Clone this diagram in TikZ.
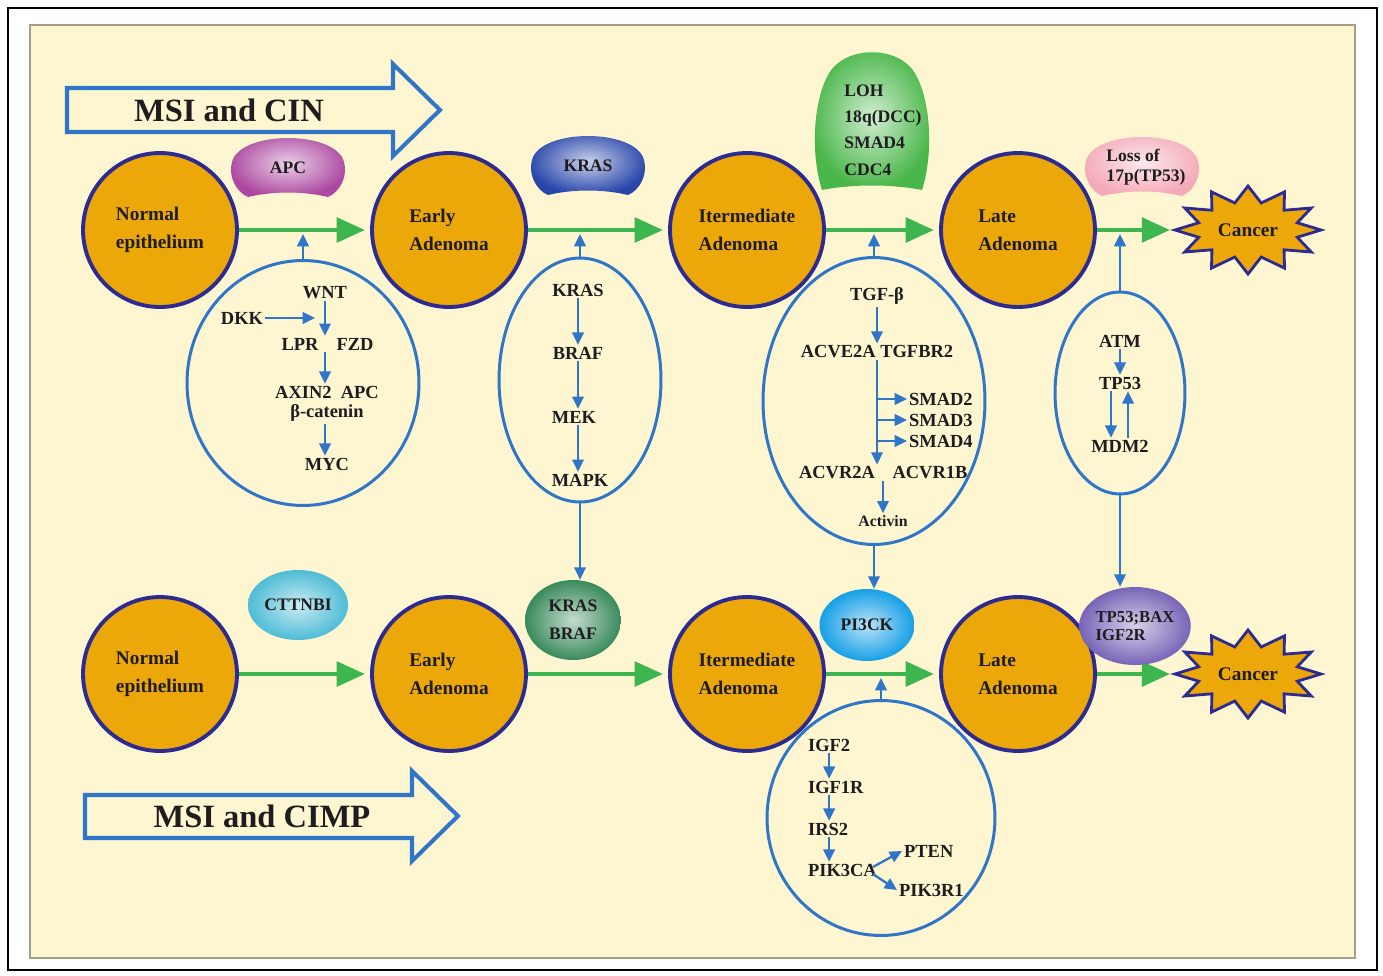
\documentclass[tikz,border=0pt]{standalone}
\usepackage{fontspec}
\setmainfont{Liberation Serif}
\usetikzlibrary{shapes.geometric, arrows.meta, calc}

\definecolor{paper}{RGB}{253,246,208}
\definecolor{stageorange}{RGB}{236,168,8}
\definecolor{ringblue}{RGB}{45,42,145}
\definecolor{pathblue}{RGB}{47,117,200}
\definecolor{arrowgreen}{RGB}{62,182,80}
\definecolor{apcpurple}{RGB}{172,72,160}
\definecolor{krasblue}{RGB}{40,70,170}
\definecolor{lohgreen}{RGB}{72,182,72}
\definecolor{losspink}{RGB}{244,170,184}
\definecolor{cttcyan}{RGB}{78,188,214}
\definecolor{kbgreen}{RGB}{58,138,92}
\definecolor{pikblue}{RGB}{22,160,230}
\definecolor{tpviolet}{RGB}{120,100,182}
\definecolor{ink}{RGB}{30,28,30}

\begin{document}
\begin{tikzpicture}[
        x=0.02cm, y=-0.02cm,
        stage/.style={circle, draw=ringblue, line width=2.2pt, fill=stageorange, minimum size=3.08cm, inner sep=0pt, align=left, text=ink, font=\fontsize{11}{16}\selectfont\bfseries},
        pathway/.style={ellipse, draw=pathblue, line width=1.7pt, inner sep=0pt},
        gene/.style={inner sep=1pt, text=ink, font=\fontsize{10.5}{12}\selectfont\bfseries},
        blob/.style={ellipse, inner sep=0pt, align=left, text=ink, font=\fontsize{10}{15}\selectfont\bfseries},
        progress/.style={draw=arrowgreen, line width=2.3pt, -{Triangle[length=16pt,width=14pt]}, shorten >=3pt},
        signal/.style={draw=pathblue, line width=1.3pt, -{Triangle[length=7pt,width=6.5pt]}},
        band/.style={draw=pathblue, line width=2.3pt, fill=paper},
        burst/.style={draw=ringblue, line width=1.6pt, fill=stageorange},
        title/.style={text=ink, font=\fontsize{18.5}{20}\selectfont\bfseries},
        pics/cushion/.style={code={
            \shade[inner color=#1!25!white, outer color=#1] (-40,29) .. controls (-52,24) and (-60,8) .. (-56,-6)
                .. controls (-48,-38) and (48,-38) .. (56,-6) .. controls (60,8) and (52,24) .. (40,29)
                .. controls (15,23) and (-15,23) .. (-40,29) -- cycle;
        }},
        pics/bell/.style={code={
            \shade[inner color=#1!25!white, outer color=#1] (-50,68) .. controls (-62,30) and (-58,-20) .. (-45,-45)
                .. controls (-30,-78) and (30,-78) .. (45,-45) .. controls (58,-20) and (62,30) .. (50,68)
                .. controls (20,62) and (-20,62) .. (-50,68) -- cycle;
        }}
    ]
        \useasboundingbox (0,0) rectangle (1383,975);

        % frame and paper
        \draw[line width=1.2pt] (8,8) rectangle (1377,970);
        \draw[fill=paper, draw=black!35!paper, line width=0.8pt] (30,25) rectangle (1355,958);

        % big arrows
        \draw[band] (67,88) -- (393,88) -- (393,64) -- (440,110) -- (393,156) -- (393,132) -- (67,132) -- cycle;
        \node[title] (cin) at (229,110) {MSI and CIN};
        \draw[band] (85,795) -- (412,795) -- (412,771) -- (458,816) -- (412,861) -- (412,838) -- (85,838) -- cycle;
        \node[title] (cimp) at (262,816) {MSI and CIMP};

        % stages, row 1 and row 2
        \foreach \r/\y in {1/230, 2/674} {
            \node[stage] (n\r) at (160,\y) {Normal\\epithelium};
            \node[stage] (e\r) at (449,\y) {Early\\Adenoma};
            \node[stage] (i\r) at (747,\y) {Itermediate\\Adenoma};
            \node[stage] (l\r) at (1018,\y) {Late\\Adenoma};
            \draw[burst] (1248+73,\y) \foreach \k in {1,...,23} {
                -- ({1248+(mod(\k,2)==0 ? 73 : 51)*cos(15*\k)}, {\y-(mod(\k,2)==0 ? 44 : 28)*sin(15*\k)})
            } -- cycle;
            \node[text=ink, font=\fontsize{11}{12}\selectfont\bfseries, minimum width=2.9cm] (c\r) at (1248,\y) {Cancer};
            \draw[progress] (n\r) -- (e\r);
            \draw[progress] (e\r) -- (i\r);
            \draw[progress] (i\r) -- (l\r);
            \draw[progress] (l\r) -- (c\r);
        }

        % mutation blobs
        \pic at (288,168) {cushion=apcpurple};
        \node[blob] (apc) at (288,168) {APC};
        \pic at (588,166) {cushion=krasblue};
        \node[blob] (kras) at (588,166) {KRAS};
        \pic at (872,122) {bell=lohgreen};
        \node[blob] (loh) at (883,130) {LOH\\18q(DCC)\\SMAD4\\CDC4};
        \pic at (1142,167) {cushion=losspink};
        \node[blob, font=\fontsize{10}{11.5}\selectfont\bfseries] (loss) at (1146,167) {Loss of\\17p(TP53)};

        \node[blob, minimum width=2cm, minimum height=1.4cm, inner color=cttcyan!30!white, outer color=cttcyan] (ctt) at (298,605) {CTTNBI};
        \node[blob, align=center, minimum width=1.92cm, minimum height=1.6cm, inner color=kbgreen!30!white, outer color=kbgreen, font=\fontsize{10}{16}\selectfont\bfseries] (kb) at (573,620) {KRAS\\BRAF};
        \node[blob, minimum width=1.9cm, minimum height=1.44cm, inner color=pikblue!30!white, outer color=pikblue] (pi3ck) at (867,625) {PI3CK};
        \node[blob, minimum width=1.9cm, minimum height=1.56cm, inner color=tpviolet!30!white, outer color=tpviolet, font=\fontsize{9.5}{10.5}\selectfont\bfseries] (tpb) at (1135,626) {TP53;BAX\\IGF2R};

        % pathway ovals
        \node[pathway, minimum width=4.64cm, minimum height=4.9cm] (wntc) at (303,383) {};
        \node[pathway, minimum width=3.24cm, minimum height=4.88cm] (krasc) at (580,380) {};
        \node[pathway, minimum width=4.44cm, minimum height=5.74cm] (tgfc) at (874,401) {};
        \node[pathway, minimum width=2.6cm, minimum height=4.04cm] (atmc) at (1120,393) {};
        \node[pathway, minimum width=4.56cm, minimum height=4.7cm] (igfc) at (881,818) {};

        \coordinate (j1) at (303,234);
        \coordinate (j2) at (580,234);
        \coordinate (j3) at (874,234);
        \coordinate (j4) at (1120,234);
        \coordinate (j5) at (881,678);
        \draw[signal] (wntc.north) -- (j1);
        \draw[signal] (krasc.north) -- (j2);
        \draw[signal] (tgfc.north) -- (j3);
        \draw[signal] (atmc.north) -- (j4);
        \draw[signal] (igfc.north) -- (j5);
        \draw[signal] (krasc.south) -- (krasc.south |- kb.north);
        \draw[signal] (tgfc.south) -- (tgfc.south |- pi3ck.north);
        \draw[signal] (atmc.south) -- (atmc.south |- tpb.north);

        % WNT pathway
        \node[gene] (wnt) at (325,293) {WNT};
        \node[gene] (dkk) at (242,318) {DKK};
        \node[gene] (lpr) at (300,344) {LPR};
        \node[gene] (fzd) at (355,344) {FZD};
        \node[gene] (axin) at (327,392) {AXIN2\enspace APC};
        \node[gene] (bcat) at (327,413) {β-catenin};
        \node[gene] (myc) at (327,464) {MYC};
        \coordinate (dkkend) at (315,318);
        \draw[signal] (dkk.east) -- (dkkend);
        \draw[signal] (wnt.south) -- (wnt.south |- lpr.north);
        \draw[signal] (wnt.south |- lpr.south) -- (wnt.south |- axin.north);
        \draw[signal] (wnt.south |- bcat.south) -- (wnt.south |- myc.north);

        % KRAS pathway
        \node[gene] (kr) at (578,290) {KRAS};
        \node[gene] (bf) at (578,353) {BRAF};
        \node[gene] (mek) at (574,417) {MEK};
        \node[gene] (mapk) at (580,480) {MAPK};
        \draw[signal] (kr.south) -- (kr.south |- bf.north);
        \draw[signal] (kr.south |- bf.south) -- (kr.south |- mek.north);
        \draw[signal] (kr.south |- mek.south) -- (kr.south |- mapk.north);

        % TGF pathway
        \node[gene] (tgf) at (877,296) {TGF-β};
        \node[gene] (acve) at (877,352) {ACVE2A TGFBR2};
        \node[gene, anchor=west] (smad2) at (907,399) {SMAD2};
        \node[gene, anchor=west] (smad3) at (907,420) {SMAD3};
        \node[gene, anchor=west] (smad4) at (907,441) {SMAD4};
        \node[gene] (acvr2a) at (837,473) {ACVR2A};
        \node[gene] (acvr1b) at (930,473) {ACVR1B};
        \node[gene, font=\fontsize{9}{10}\selectfont\bfseries] (activin) at (883,521) {Activin};
        \draw[signal] (tgf.south) -- (tgf.south |- acve.north);
        \draw[signal] (tgf.south |- acve.south) -- (tgf.south |- acvr2a.north);
        \foreach \s in {smad2, smad3, smad4}
            \draw[signal] (tgf.south |- \s.west) -- (\s.west);
        \draw[signal] (activin.north |- acvr1b.south) -- (activin.north);

        % ATM pathway
        \node[gene] (atm) at (1120,341) {ATM};
        \node[gene] (tp53) at (1120,383) {TP53};
        \node[gene] (mdm2) at (1120,446) {MDM2};
        \draw[signal] (atm.south) -- (tp53.north);
        \draw[signal] ($(tp53.south)+(-9,0)$) -- ($(mdm2.north)+(-9,0)$);
        \draw[signal] ($(mdm2.north)+(8,0)$) -- ($(tp53.south)+(8,0)$);

        % IGF pathway
        \node[gene, anchor=west] (igf2) at (806,745) {IGF2};
        \node[gene, anchor=west] (igf1r) at (806,787) {IGF1R};
        \node[gene, anchor=west] (irs2) at (806,829) {IRS2};
        \node[gene, anchor=west] (pik3ca) at (806,870) {PIK3CA};
        \node[gene, anchor=west] (pten) at (902,851) {PTEN};
        \node[gene, anchor=west] (pik3r1) at (897,890) {PIK3R1};
        \draw[signal] (igf2.south) -- (igf2.south |- igf1r.north);
        \draw[signal] (igf2.south |- igf1r.south) -- (igf2.south |- irs2.north);
        \draw[signal] (igf2.south |- irs2.south) -- (igf2.south |- pik3ca.north);
        \draw[signal] ($(pik3ca.east)+(-6,-3)$) -- (pten.west);
        \draw[signal] ($(pik3ca.east)+(-6,4)$) -- (pik3r1.west);

    \end{tikzpicture}
\end{document}
